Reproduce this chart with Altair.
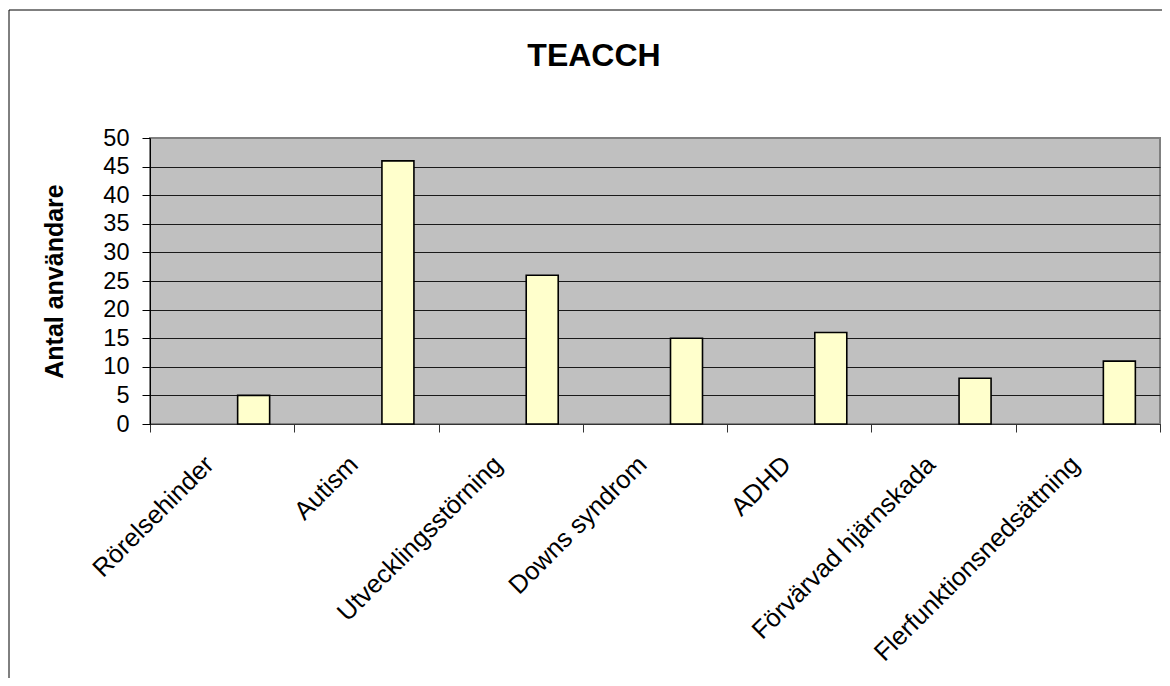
import altair as alt
import pandas as pd

categories = ["Rörelsehinder", "Autism", "Utvecklingsstörning", "Downs syndrom",
              "ADHD", "Förvärvad hjärnskada", "Flerfunktionsnedsättning"]
values = [5, 46, 26, 15, 16, 8, 11]
y_ticks = [0, 5, 10, 15, 20, 25, 30, 35, 40, 45, 50]
title_text = "TEACCH"
y_title = "Antal användare"

df = pd.DataFrame({"kategori": categories, "antal": values})

FONT = "Liberation Sans"

bars = alt.Chart(df).mark_bar(
    width=32, xOffset=31.5, fill="#FFFFCC", stroke="black", strokeWidth=1.6
).encode(
    x=alt.X("kategori:N", sort=categories,
            scale=alt.Scale(paddingInner=0, paddingOuter=0),
            axis=alt.Axis(title=None, labelAngle=-45, labelAlign="right",
                          labelBaseline="middle", labelFontSize=25.5, labelFont=FONT,
                          labelColor="black", tickBand="extent", tickSize=8,
                          tickColor="#333333", domainColor="#333333",
                          labelPadding=28, labelOffset=-13, grid=False,
                          labelLimit=0)),
    y=alt.Y("antal:Q", scale=alt.Scale(domain=[0, 50], nice=False),
            axis=alt.Axis(values=y_ticks, title=y_title, titleFont=FONT,
                          titleFontSize=25, titleFontWeight="bold", titleColor="black",
                          titleX=-88, titleY=143, titleBaseline="alphabetic",
                          titleAngle=-90, titleAlign="center",
                          labelFont=FONT, labelFontSize=23.5, labelColor="black",
                          labelPadding=13, tickSize=8, tickColor="black",
                          domainColor="black",
                          grid=True,
                          gridColor="#1a1a1a",
                          gridOpacity=alt.condition("datum.value == 50", alt.value(0), alt.value(1)),
                          gridWidth=1)),
)

frame_data = alt.Data(values=[{"f": 1}])
frame_left = alt.Chart(frame_data).mark_rule(color="black", strokeWidth=1).encode(
    x=alt.value(-141), y=alt.value(-128), y2=alt.value(700)
)
frame_top = alt.Chart(frame_data).mark_rule(color="black", strokeWidth=1).encode(
    x=alt.value(-141), x2=alt.value(1300), y=alt.value(-128)
)

title = alt.Chart(alt.Data(values=[{"t": title_text}])).mark_text(
    font=FONT, fontSize=32, fontWeight="bold", color="black",
    align="center", baseline="alphabetic"
).encode(
    text="t:N", x=alt.value(444), y=alt.value(-72)
)

chart = alt.layer(frame_left, frame_top, bars, title).properties(
    width=1010, height=286,
    autosize=alt.AutoSizeParams(type="none"),
    padding={"left": 142, "top": 130, "right": 2, "bottom": 254},
).configure_view(
    fill="#C0C0C0", stroke="#808080", strokeWidth=2
)

chart.save("out.html", embed_options={"renderer": "svg", "actions": False})
